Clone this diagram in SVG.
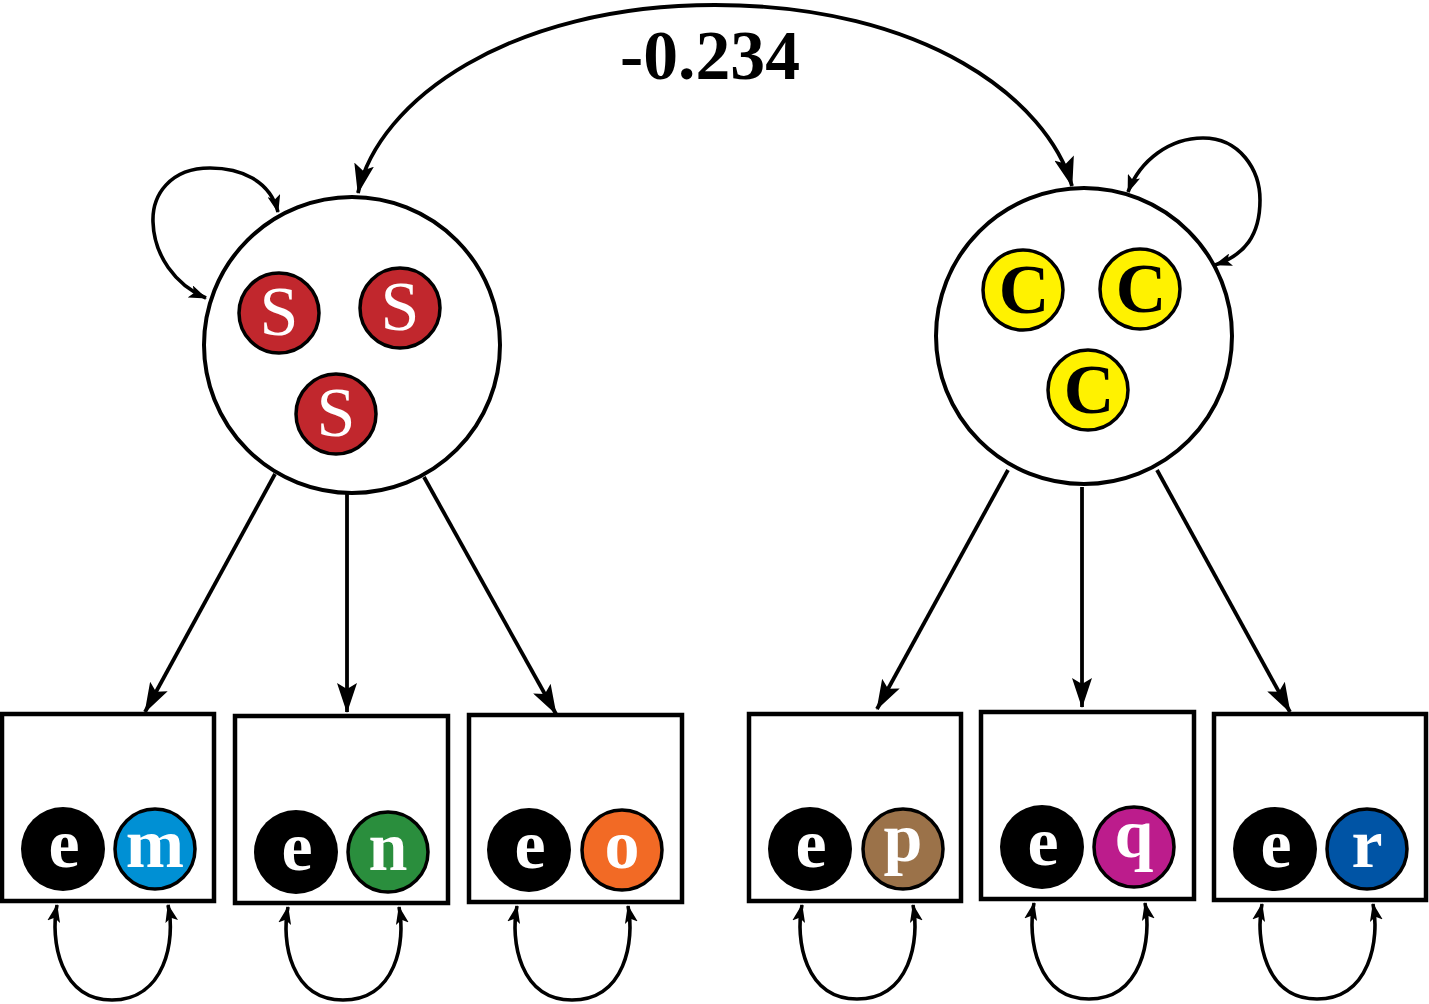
<svg xmlns="http://www.w3.org/2000/svg" width="1429" height="1004" viewBox="0 0 1429 1004">
<style>
.big{fill:#fff;stroke:#000;stroke-width:4}
.box{fill:#fff;stroke:#000;stroke-width:4.5}
.sc{stroke:#000;stroke-width:3.5}
.ec{fill:#000}
.ln{fill:none;stroke:#000;stroke-width:3.8}
.lp{fill:none;stroke:#000;stroke-width:3.6}
.t{font-family:"Liberation Serif","Times New Roman",serif;text-anchor:middle;font-size:70px}
.w{fill:#fff;font-weight:bold}
</style>
<defs>
<marker id="ah" markerUnits="userSpaceOnUse" viewBox="0 0 30 20" refX="29" refY="10" markerWidth="30" markerHeight="20" orient="auto-start-reverse">
<path d="M0,0 L30,10 L0,20 L6,10 z" fill="#000"/>
</marker>
<marker id="as" markerUnits="userSpaceOnUse" viewBox="0 0 18 13" refX="17" refY="6.5" markerWidth="18" markerHeight="13" orient="auto-start-reverse">
<path d="M0,0 L18,6.5 L0,13 L4,6.5 z" fill="#000"/>
</marker>
</defs>

<g id="connectors">
<path class="ln" d="M358,193 C378,100 510,5 715,5 C925,5 1048,100 1072,186" marker-start="url(#ah)" marker-end="url(#ah)"/>
<path class="lp" d="M278,212 C270,180 240,168 210,168 C170,168 152,195 153,222 C154,255 175,285 206,298" marker-start="url(#as)" marker-end="url(#as)"/>
<path class="lp" d="M1128,192 C1140,160 1170,138 1203,138 C1240,138 1260,170 1260,200 C1260,235 1245,255 1215,265" marker-start="url(#as)" marker-end="url(#as)"/>
<line class="ln" x1="275" y1="474" x2="145" y2="712" marker-end="url(#ah)"/>
<line class="ln" x1="347" y1="494" x2="347" y2="712" marker-end="url(#ah)"/>
<line class="ln" x1="424" y1="477" x2="556" y2="714" marker-end="url(#ah)"/>
<line class="ln" x1="1008" y1="470" x2="877" y2="709" marker-end="url(#ah)"/>
<line class="ln" x1="1082" y1="487" x2="1082" y2="707" marker-end="url(#ah)"/>
<line class="ln" x1="1157" y1="470" x2="1290" y2="712" marker-end="url(#ah)"/>
<path class="lp" d="M57,905 C50,940 60,1000 112,1000 C165,1000 176,940 168,905" marker-start="url(#as)" marker-end="url(#as)"/>
<path class="lp" d="M288,907 C281,942 291,1000 343,1000 C396,1000 406,942 399,907" marker-start="url(#as)" marker-end="url(#as)"/>
<path class="lp" d="M517,906 C510,941 520,1000 572,1000 C625,1000 635,941 628,906" marker-start="url(#as)" marker-end="url(#as)"/>
<path class="lp" d="M802,905 C795,940 805,999 857,999 C910,999 920,940 913,905" marker-start="url(#as)" marker-end="url(#as)"/>
<path class="lp" d="M1034,903 C1027,938 1037,999 1089,999 C1142,999 1152,938 1145,903" marker-start="url(#as)" marker-end="url(#as)"/>
<path class="lp" d="M1262,904 C1255,939 1265,999 1317,999 C1370,999 1380,939 1373,904" marker-start="url(#as)" marker-end="url(#as)"/>
<text class="t" x="710" y="79" font-weight="bold" font-size="74" textLength="180" lengthAdjust="spacingAndGlyphs">-0.234</text>
</g>

<g id="node-S">
<circle class="big" cx="352" cy="345" r="148"/>
<circle class="sc" cx="279" cy="313" r="40" fill="#C1272D"/>
<circle class="sc" cx="400" cy="308" r="40" fill="#C1272D"/>
<circle class="sc" cx="336" cy="414" r="40" fill="#C1272D"/>
<text class="t" x="279" y="335" fill="#fff">S</text>
<text class="t" x="400" y="330" fill="#fff">S</text>
<text class="t" x="336" y="436" fill="#fff">S</text>
</g>

<g id="node-C">
<circle class="big" cx="1084" cy="336" r="148"/>
<circle class="sc" cx="1023" cy="290" r="40" fill="#FFF200"/>
<circle class="sc" cx="1140" cy="289" r="40" fill="#FFF200"/>
<circle class="sc" cx="1088" cy="390" r="40" fill="#FFF200"/>
<text class="t" x="1024" y="313" font-weight="bold">C</text>
<text class="t" x="1141" y="312" font-weight="bold">C</text>
<text class="t" x="1089" y="413" font-weight="bold">C</text>
</g>

<g id="node-m">
<rect class="box" x="2" y="714" width="212" height="187"/>
<circle class="ec" cx="63" cy="849" r="42"/>
<circle class="sc" cx="155" cy="849" r="40" fill="#0090D4"/>
<text class="t w" x="64" y="867">e</text>
<text class="t w" x="155" y="867">m</text>
</g>

<g id="node-n">
<rect class="box" x="235" y="716" width="213" height="187"/>
<circle class="ec" cx="296" cy="852" r="42"/>
<circle class="sc" cx="388" cy="852" r="40" fill="#2A8E3D"/>
<text class="t w" x="297" y="870">e</text>
<text class="t w" x="388" y="870">n</text>
</g>

<g id="node-o">
<rect class="box" x="469" y="715" width="213" height="187"/>
<circle class="ec" cx="529" cy="850" r="42"/>
<circle class="sc" cx="622" cy="850" r="40" fill="#F26A25"/>
<text class="t w" x="530" y="868">e</text>
<text class="t w" x="622" y="868">o</text>
</g>

<g id="node-p">
<rect class="box" x="749" y="714" width="212" height="187"/>
<circle class="ec" cx="810" cy="849" r="42"/>
<circle class="sc" cx="903" cy="849" r="40" fill="#9B7249"/>
<text class="t w" x="811" y="867">e</text>
<text class="t w" x="903" y="861">p</text>
</g>

<g id="node-q">
<rect class="box" x="981" y="712" width="213" height="187"/>
<circle class="ec" cx="1042" cy="847" r="42"/>
<circle class="sc" cx="1134" cy="847" r="40" fill="#BC1C8C"/>
<text class="t w" x="1043" y="865">e</text>
<text class="t w" x="1134" y="857">q</text>
</g>

<g id="node-r">
<rect class="box" x="1214" y="714" width="212" height="186"/>
<circle class="ec" cx="1275" cy="849" r="42"/>
<circle class="sc" cx="1367" cy="849" r="40" fill="#0054A5"/>
<text class="t w" x="1276" y="867">e</text>
<text class="t w" x="1367" y="867">r</text>
</g>
</svg>
